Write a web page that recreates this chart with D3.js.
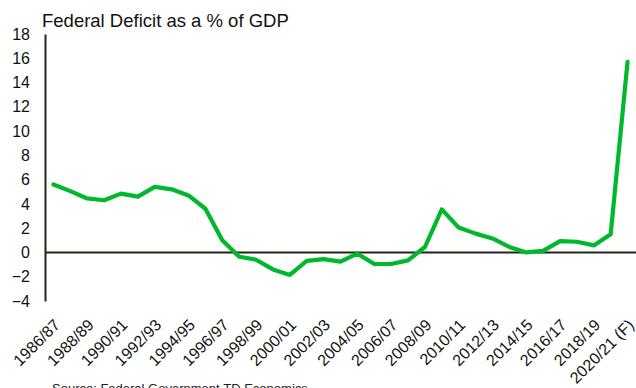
<!DOCTYPE html>
<html>
<head>
<meta charset="utf-8">
<script src="https://cdn.jsdelivr.net/npm/d3@7"></script>
<style>
  html, body { margin: 0; padding: 0; background: #fff; }
  svg { display: block; font-family: Arial, "Liberation Sans", sans-serif; }
</style>
</head>
<body>
<svg id="chart" width="636" height="388"></svg>
<script>
// Fiscal years, 1986/87 through the 2020/21 forecast
const years = [
  "1986/87","1987/88","1988/89","1989/90","1990/91","1991/92","1992/93","1993/94",
  "1994/95","1995/96","1996/97","1997/98","1998/99","1999/00","2000/01","2001/02",
  "2002/03","2003/04","2004/05","2005/06","2006/07","2007/08","2008/09","2009/10",
  "2010/11","2011/12","2012/13","2013/14","2014/15","2015/16","2016/17","2017/18",
  "2018/19","2019/20","2020/21 (F)"
];
// Federal deficit, % of GDP
const deficit = [
  5.6, 5.05, 4.45, 4.3, 4.85, 4.6, 5.4, 5.2,
  4.7, 3.6, 1.0, -0.35, -0.6, -1.4, -1.85, -0.7,
  -0.55, -0.75, -0.1, -0.95, -0.95, -0.65, 0.45, 3.55,
  2.05, 1.55, 1.15, 0.45, 0.0, 0.13, 0.93, 0.88,
  0.58, 1.5, 15.7
];
const yTicks = [-4, -2, 0, 2, 4, 6, 8, 10, 12, 14, 16, 18];
const title = "Federal Deficit as a % of GDP";
const source = "Source: Federal Government,TD Economics";

const svg = d3.select("#chart");
const plotLeft = 45, plotRight = 636, plotTop = 34, plotBottom = 301;

const x = d3.scalePoint().domain(years).range([plotLeft, plotRight]).padding(0.5);
const y = d3.scaleLinear().domain([-4, 18]).range([plotBottom, plotTop]);

// title
svg.append("text")
  .attr("x", 42).attr("y", 27)
  .attr("font-size", 18.5).attr("fill", "#111")
  .text(title);

// y axis
const yAxis = svg.append("g")
  .attr("transform", `translate(${plotLeft},0)`)
  .call(d3.axisLeft(y).tickValues(yTicks).tickSize(0).tickPadding(15).tickFormat(d3.format("d")));
yAxis.select(".domain").attr("stroke", "#23241a").attr("stroke-width", 2);
yAxis.selectAll("text").attr("font-size", 16).attr("fill", "#111")
  .attr("font-family", "Arial, 'Liberation Sans', sans-serif");

// zero line
svg.append("line")
  .attr("x1", plotLeft).attr("x2", plotRight)
  .attr("y1", y(0)).attr("y2", y(0))
  .attr("stroke", "#23241a").attr("stroke-width", 2);

// x labels every other year, rotated
const xAxis = svg.append("g")
  .attr("transform", `translate(0,${plotBottom})`)
  .call(d3.axisBottom(x).tickValues(years.filter((d, i) => i % 2 === 0)).tickSize(0));
xAxis.select(".domain").remove();
xAxis.selectAll("text")
  .attr("font-size", 16).attr("fill", "#111")
  .attr("font-family", "Arial, 'Liberation Sans', sans-serif")
  .attr("text-anchor", "end")
  .attr("dy", null)
  .attr("y", 0)
  .attr("transform", "translate(7,25) rotate(-45)");

// deficit line
const line = d3.line().x((d, i) => x(years[i])).y(d => y(d));
svg.append("path")
  .datum(deficit)
  .attr("d", line)
  .attr("fill", "none")
  .attr("stroke", "#00b82b")
  .attr("stroke-width", 4.2)
  .attr("stroke-linejoin", "round")
  .attr("stroke-linecap", "round");

// source note
svg.append("text")
  .attr("x", 52).attr("y", 393)
  .attr("font-size", 13).attr("fill", "#222")
  .text(source);
</script>
</body>
</html>
